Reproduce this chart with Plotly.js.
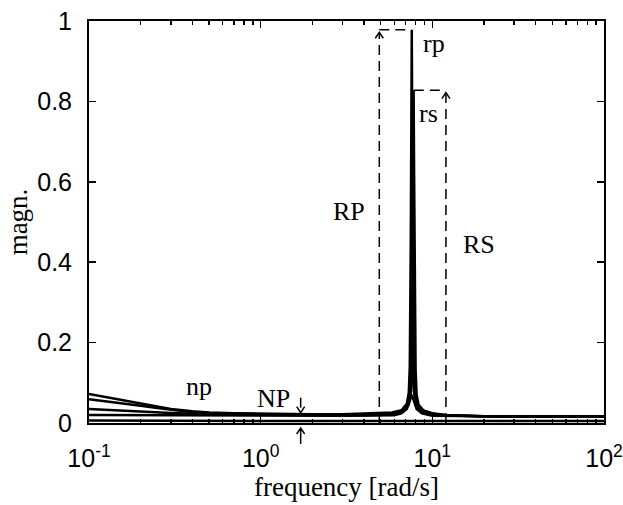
<!DOCTYPE html>
<html>
<head>
<meta charset="utf-8">
<script src="https://cdn.plot.ly/plotly-3.0.1.min.js"></script>
<style>
  html, body { margin: 0; padding: 0; background: #ffffff; }
  #chart { width: 623px; height: 505px; }
</style>
</head>
<body>
<div id="chart"></div>
<script>
// ---- data (frequency in rad/s, magnitude) ----
const freqA = [0.1, 0.12, 0.15, 0.2, 0.25, 0.3, 0.4, 0.5, 0.7, 1, 1.5, 2, 3, 4, 5, 5.81, 6.638, 7.098, 7.291, 7.389, 7.489, 7.539, 7.59, 7.641, 7.692, 7.796, 7.901, 8.116, 8.678, 9.92, 12, 15, 20, 30, 50, 100];
const magA  = [0.072, 0.066, 0.058, 0.048, 0.040, 0.035, 0.029, 0.026, 0.024, 0.023, 0.022, 0.022, 0.022, 0.023, 0.024, 0.026, 0.032, 0.048, 0.075, 0.14, 0.45, 0.72, 0.978, 0.72, 0.45, 0.14, 0.075, 0.048, 0.032, 0.024, 0.020, 0.018, 0.017, 0.017, 0.016, 0.016];

const freqB = [0.1, 0.12, 0.15, 0.2, 0.25, 0.3, 0.4, 0.5, 0.7, 1, 1.5, 2, 3, 4, 5, 5.953, 6.804, 7.276, 7.474, 7.574, 7.676, 7.728, 7.78, 7.832, 7.885, 7.991, 8.099, 8.319, 8.896, 10.17, 12, 15, 20, 30, 50, 100];
const magB  = [0.059, 0.055, 0.050, 0.043, 0.037, 0.033, 0.027, 0.025, 0.023, 0.022, 0.021, 0.021, 0.021, 0.022, 0.023, 0.025, 0.031, 0.045, 0.07, 0.13, 0.40, 0.62, 0.828, 0.62, 0.40, 0.13, 0.07, 0.045, 0.031, 0.023, 0.019, 0.017, 0.016, 0.016, 0.016, 0.016];

const freqC = [0.1, 0.15, 0.2, 0.3, 0.5, 0.7, 1, 2, 4, 6, 6.6, 7.1, 7.4, 7.6, 7.8, 8.1, 8.7, 10, 20, 50, 100];
const magC  = [0.035, 0.031, 0.028, 0.025, 0.022, 0.021, 0.020, 0.019, 0.019, 0.021, 0.026, 0.040, 0.080, 0.150, 0.080, 0.040, 0.026, 0.020, 0.017, 0.016, 0.016];

const freqD = [0.1, 0.3, 1, 3, 6, 6.6, 7.1, 7.6, 8.1, 8.7, 10, 30, 100];
const magD  = [0.020, 0.019, 0.018, 0.018, 0.019, 0.024, 0.035, 0.070, 0.035, 0.024, 0.018, 0.016, 0.016];

const freqE = [0.1, 0.3, 1, 3, 10, 30, 100];
const magE  = [0.006, 0.005, 0.005, 0.005, 0.005, 0.005, 0.005];

const xTickVals = [0.1, 1, 10, 100];
const xTickText = ['10<sup>-1</sup>', '10<sup>0</sup>', '10<sup>1</sup>', '10<sup>2</sup>'];
const yTickVals = [0, 0.2, 0.4, 0.6, 0.8, 1];
const yTickText = ['0', '0.2', '0.4', '0.6', '0.8', '1'];
const xMinorVals = [0.2,0.3,0.4,0.5,0.6,0.7,0.8,0.9, 2,3,4,5,6,7,8,9, 20,30,40,50,60,70,80,90];

// annotation markers (frequency, magnitude)
const rpFreq = 4.91, rpPeakFreq = 7.55, rpMag = 0.978;
const rsFreq = 12.0, rsPeakFreq = 7.8, rsMag = 0.828;
const npFreq = 1.71, npTop = 0.026;

const lineStyle = {color: '#000000', width: 2.5};
const series = [[freqA, magA], [freqB, magB], [freqC, magC], [freqD, magD], [freqE, magE]];
const traces = series.map(function (s) {
  return {x: s[0], y: s[1], type: 'scatter', mode: 'lines', line: lineStyle,
          showlegend: false, hoverinfo: 'skip'};
});

const serif = 'Liberation Serif, Times New Roman, serif';
const sans = 'Liberation Sans, Arial, Helvetica, sans-serif';
const dash = {color: '#000000', width: 1.5, dash: '10px,6px'};
const solid = {color: '#000000', width: 1.5};

function label(text, fx, y) {
  return {text: text, x: Math.log10(fx), y: y, xref: 'x', yref: 'y', showarrow: false,
          xanchor: 'center', yanchor: 'middle', font: {family: serif, size: 26, color: '#000'}};
}
// small chevron arrowhead drawn in pixels around an anchor point
function head(fx, y, up, yref) {
  return {type: 'path', xref: 'x', yref: yref || 'y', xsizemode: 'pixel', ysizemode: 'pixel',
          xanchor: fx, yanchor: y, line: solid,
          path: up ? 'M-4,-6 L0,0 L4,-6' : 'M-4,6 L0,0 L4,6'};
}

const yTickPadded = yTickText.map(function (t) { return '\u200A' + t; });

const layout = {
  width: 623, height: 505,
  margin: {l: 89, r: 19, t: 21, b: 82, pad: 0},
  paper_bgcolor: '#ffffff', plot_bgcolor: '#ffffff',
  showlegend: false,
  xaxis: {
    type: 'log', range: [-1, 2], autorange: false,
    tickmode: 'array', tickvals: xTickVals, ticktext: xTickText,
    ticks: 'inside', ticklen: 7, tickwidth: 1.5, tickcolor: '#000',
    minor: {tickmode: 'array', tickvals: xMinorVals, ticks: 'inside', ticklen: 4, tickwidth: 1.5, tickcolor: '#000', showgrid: false},
    showline: true, linewidth: 2, linecolor: '#000', mirror: 'ticks',
    showgrid: false, zeroline: false,
    tickfont: {family: sans, size: 25, color: '#000'},
    ticklabelstandoff: 12,
    automargin: false,
    title: {text: 'frequency [rad/s]', font: {family: serif, size: 27, color: '#000'}, standoff: 0}
  },
  yaxis: {
    range: [0, 1], autorange: false,
    tickmode: 'array', tickvals: yTickVals, ticktext: yTickPadded,
    ticks: 'inside', ticklen: 7, tickwidth: 1.5, tickcolor: '#000',
    showline: true, linewidth: 2, linecolor: '#000', mirror: 'ticks',
    showgrid: false, zeroline: false,
    tickfont: {family: sans, size: 25, color: '#000'},
    ticklabelstandoff: 10,
    automargin: false,
    title: {text: 'magn.', font: {family: serif, size: 27, color: '#000'}, standoff: 0}
  },
  shapes: [
    {type: 'line', xref: 'x', yref: 'y', x0: rpFreq, x1: rpFreq, y0: 0, y1: rpMag - 0.006, line: dash},
    {type: 'line', xref: 'x', yref: 'y', x0: rpFreq, x1: rpPeakFreq, y0: rpMag, y1: rpMag, line: dash},
    head(rpFreq, rpMag - 0.006, true),
    {type: 'line', xref: 'x', yref: 'y', x0: rsFreq, x1: rsFreq, y0: 0, y1: rsMag - 0.006, line: dash},
    {type: 'line', xref: 'x', yref: 'y', x0: rsPeakFreq, x1: rsFreq, y0: rsMag, y1: rsMag, line: dash},
    head(rsFreq, rsMag - 0.006, true),
    {type: 'line', xref: 'x', yref: 'y', x0: npFreq, x1: npFreq, y0: 0.038, y1: 0.068, line: dash},
    head(npFreq, npTop, false),
    {type: 'path', xref: 'x', yref: 'paper', xsizemode: 'pixel', ysizemode: 'pixel',
     xanchor: npFreq, yanchor: 0, line: solid, path: 'M0,-5 L0,-21 M-4,-11 L0,-5 L4,-11'}
  ],
  annotations: [
    label('rp', 10.23, 0.945),
    label('rs', 9.56, 0.771),
    label('RP', 3.27, 0.525),
    label('RS', 18.7, 0.443),
    label('NP', 1.19, 0.060),
    label('np', 0.44, 0.090)
  ]
};

Plotly.newPlot('chart', traces, layout, {staticPlot: true, displayModeBar: false});
</script>
</body>
</html>
